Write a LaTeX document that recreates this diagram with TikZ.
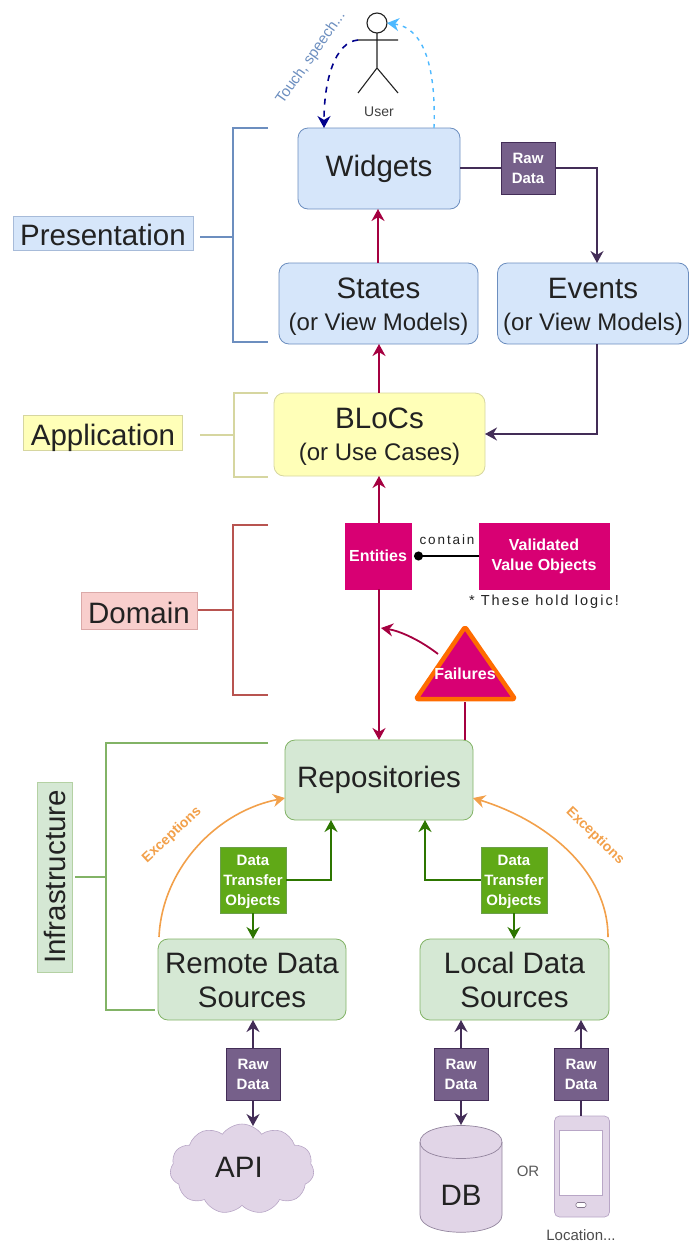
\documentclass[tikz,border=0pt]{standalone}
\usepackage{fontspec}
\setmainfont{Liberation Sans}
\newfontfamily\spacedfont[LetterSpace=14]{Liberation Sans}
\usetikzlibrary{arrows.meta,shapes.geometric,shapes.symbols,calc}
\definecolor{blueF}{HTML}{D6E6FA}\definecolor{blueD}{HTML}{6C8EBF}
\definecolor{yelF}{HTML}{FFFFB8}\definecolor{yelD}{HTML}{D6D6A0}
\definecolor{redF}{HTML}{F8CECC}\definecolor{redD}{HTML}{B85450}
\definecolor{grnF}{HTML}{D5E8D4}\definecolor{grnD}{HTML}{82B366}
\definecolor{purF}{HTML}{E1D5E7}\definecolor{purD}{HTML}{B8A6C6}
\definecolor{rawF}{HTML}{76608A}\definecolor{rawD}{HTML}{432D57}
\definecolor{magF}{HTML}{D80073}\definecolor{crim}{HTML}{A50040}
\definecolor{dtoF}{HTML}{60A917}\definecolor{dtoD}{HTML}{2D7600}
\definecolor{orng}{HTML}{F2A04A}\definecolor{ink}{HTML}{222222}
\newcommand{\dn}[1]{\rule{0pt}{#1pt}}
\tikzset{
  x=1pt,y=-1pt,
  every node/.style={inner sep=0pt,outer sep=0pt,align=center,text=ink},
  big/.style={font=\fontsize{29.5}{34}\selectfont},
  rbox/.style={draw=#1,rounded corners=10pt,line width=0.8pt,big},
  legend/.style={big,line width=0.9pt},
  sq/.style={font=\bfseries\fontsize{15}{20}\selectfont,text=white},
  rawbox/.style={sq,draw=rawD,fill=rawF,minimum width=54,minimum height=52},
  dtobox/.style={sq,draw=dtoD!70,fill=dtoF,minimum width=66,minimum height=66},
  magbox/.style={font=\bfseries\fontsize{16}{20}\selectfont,text=white,draw=magF,fill=magF},
  tipS/.style={-{Stealth[length=12pt,width=13pt]}},
  crimline/.style={draw=crim,line width=1.8pt,tipS},
  rawline/.style={draw=rawD,line width=1.8pt,tipS},
  dtoline/.style={draw=dtoD,line width=1.8pt,tipS},
  excline/.style={draw=orng,line width=1.6pt,tipS},
  brk/.style={line width=1.2pt}
}
\newcommand{\vm}{{\fontsize{24}{30}\selectfont (or View Models)}}
\begin{document}
\begin{tikzpicture}
\useasboundingbox (0,0) rectangle (689,1242);

% brackets
\draw[brk,blueD] (268,128)--(233,128)--(233,342)--(268,342) (200,237)--(233,237);
\draw[brk,yelD] (268,393)--(234,393)--(234,477)--(268,477) (200,435)--(234,435);
\draw[brk,redD] (268,525)--(233,525)--(233,695)--(268,695) (198,610)--(233,610);
\draw[brk,grnD] (268,743)--(106,743)--(106,1010)--(155,1010) (75,877)--(106,877);

% legends
\node[legend,draw=blueD!60,fill=blueF,minimum width=180,minimum height=34] (lp) at (103,233) {\dn{26}Presentation};
\node[legend,draw=yelD,fill=yelF,minimum width=159,minimum height=35,text depth=0pt] (la) at (103,433) {\dn{24}Application};
\node[legend,draw=redD!50,fill=redF,minimum width=116,minimum height=37] (ld) at (139,611) {\dn{25}Domain};
\node[legend,draw=grnD!60,fill=grnF,minimum width=190,minimum height=35,rotate=90] (li) at (55,877) {Infrastructure};

% main boxes
\node[rbox=blueD,fill=blueF,minimum width=162,minimum height=81] (widgets) at (379,168.5) {Widgets};
\node[rbox=blueD,fill=blueF,minimum width=199,minimum height=81] (states) at (378.5,303.5) {\dn{27}States\\[-2pt]\vm};
\node[rbox=blueD,fill=blueF,minimum width=191,minimum height=81] (events) at (593,303.5) {\dn{27}Events\\[-2pt]\vm};
\node[rbox=yelD,fill=yelF,minimum width=211,minimum height=83] (blocs) at (379.5,434.5) {\dn{24}BLoCs\\[-2pt]{\fontsize{24}{30}\selectfont (or Use Cases)}};
\node[rbox=grnD,fill=grnF,minimum width=188,minimum height=80] (repos) at (379,780) {Repositories};
\node[rbox=grnD,fill=grnF,minimum width=188,minimum height=81] (remote) at (252,979.5) {\dn{23}Remote Data\\Sources};
\node[rbox=grnD,fill=grnF,minimum width=189,minimum height=81] (local) at (514.5,979.5) {\dn{23}Local Data\\Sources};

% domain
\node[magbox,minimum width=66,minimum height=66] (entities) at (378,556) {Entities};
\node[magbox,minimum width=130,minimum height=66] (vvo) at (544,556) {Validated\\Value Objects};
\node[font=\spacedfont\fontsize{13.5}{15}\selectfont] (contain) at (447,540) {contain};
\node[font=\spacedfont\fontsize{14.5}{16}\selectfont] (logic) at (544,602) {* These hold logic!};

% failures triangle
\coordinate (ftop) at (465,627);
\coordinate (fleft) at (416,699);
\coordinate (fright) at (515,699);
\coordinate (fout) at (438,654);
\coordinate (fbase) at (465,702);
\coordinate (rail) at (381,628);
\draw[draw=orange!85!red,fill=magF,line width=4.5pt,line join=round,rounded corners=2pt] (ftop)--(fright)--(fleft)--cycle;
\node[font=\bfseries\fontsize{16}{20}\selectfont,text=white] (failures) at (465,674) {Failures};

% dto and raw boxes
\draw[rawline] (widgets.east |- 0,168) -- (597,168) -- (events.north -| 597,0);
\draw[rawline] (events.south -| 597,0) -- (597,434) -- (blocs.east |- 0,434);
\node[rawbox] (raw1) at (528,168) {Raw\\Data};
\node[dtobox] (dto1) at (253,880) {\dn{15}Data\\Transfer\\Objects};
\node[dtobox] (dto2) at (514,880) {\dn{15}Data\\Transfer\\Objects};
\node[rawbox] (raw2) at (253,1074) {Raw\\Data};
\node[rawbox] (raw3) at (461,1074) {Raw\\Data};
\node[rawbox] (raw4) at (581,1074) {Raw\\Data};

% stores
\node[cloud,cloud puffs=11,cloud puff arc=110,aspect=1.6,draw=purD,fill=purF,minimum width=144,minimum height=90,line width=0.6pt] (api) at (242,1169) {};
\node[font=\fontsize{29.5}{33}\selectfont] (apitext) at (239,1167) {API};
\coordinate (dbtop) at (461,1125);
\draw[draw=purD!80!black,fill=purF,line width=0.7pt]
  (420,1142) .. controls (420,1120) and (502,1120) .. (502,1142)
  -- (502,1215) .. controls (502,1238) and (420,1238) .. (420,1215) -- cycle;
\draw[draw=purD!80!black,line width=0.7pt] (420,1142) .. controls (420,1164) and (502,1164) .. (502,1142);
\node[font=\fontsize{29.5}{33}\selectfont] (dbtext) at (461,1195) {DB};
\node[font=\fontsize{15}{17}\selectfont,text=black!65] (or) at (528,1171) {OR};
\node[draw=purD,fill=purF,rounded corners=5pt,minimum width=55,minimum height=101,line width=0.7pt] (phone) at (582,1166.5) {};
\node[draw=purD,fill=white,minimum width=43,minimum height=65,line width=0.7pt] (screen) at (581,1163) {};
\node[draw=purD!70!black,fill=white,rounded corners=1.5pt,minimum width=10,minimum height=5,line width=0.6pt] (btn) at (581,1205) {};
\node[font=\fontsize{15}{17}\selectfont,text=black!70] (loc) at (581,1235) {Location...};

% actor
\node[circle,draw=ink,line width=1.1pt,minimum size=20,fill=white] (head) at (377,23) {};
\coordinate (hip) at (377,68);
\coordinate (armL) at (358,40);
\coordinate (armR) at (398,40);
\draw[ink,line width=1.1pt] (head.south)--(hip) (armL)--(armR) (hip)--(358,93) (hip)--(398,93);
\node[font=\fontsize{14}{16}\selectfont,text=black!75] (user) at (379,112) {User};
\node[font=\fontsize{15}{17}\selectfont,text=blueD,rotate=55] (touch) at (311,58) {Touch, speech...};

% connectors
\draw[draw=blue!55!black,line width=1.6pt,dash pattern=on 6pt off 6pt,tipS] (armL) .. controls (335,42) and (324,80) .. (324,128);
\draw[draw=blue!40!cyan!70,line width=1.4pt,dash pattern=on 4pt off 5pt,tipS] (434,128) .. controls (436,70) and (425,28) .. (head.east);

\draw[crimline] (states.north -| 378,0) -- (widgets.south -| 378,0);
\draw[crimline] (blocs.north -| 379,0) -- (states.south -| 379,0);
\draw[crimline] (entities.north -| 379,0) -- (blocs.south -| 379,0);
\draw[crimline] (entities.south -| 379,0) -- (repos.north -| 379,0);
\draw[crimline] (fout) .. controls (420,640) and (400,631) .. (rail);
\draw[draw=crim,line width=1.8pt] (fbase) -- (repos.north -| 465,0);

\draw[draw=black,line width=1.6pt,-{Circle[length=9pt]}] (vvo.west) -- ($(entities.east)+(3,0)$);

\draw[dtoline] (dto1.east |- 0,880) -- (331,880) -- (repos.south -| 331,0);
\draw[dtoline] (dto2.west |- 0,880) -- (425,880) -- (repos.south -| 425,0);
\draw[dtoline] (dto1.south) -- (remote.north -| dto1.south);
\draw[dtoline] (dto2.south) -- (local.north -| dto2.south);

\draw[excline] (remote.north west) ++(1,-2) .. controls (162,870) and (215,812) .. (repos.west |- 0,798);
\draw[excline] (local.north east) ++(-1,-2) .. controls (608,870) and (545,820) .. (repos.east |- 0,798);
\node[font=\bfseries\fontsize{14}{16}\selectfont,text=orng,rotate=43] (exc1) at (172,835) {Exceptions};
\node[font=\bfseries\fontsize{14}{16}\selectfont,text=orng,rotate=-44] (exc2) at (595,836) {Exceptions};

\draw[rawline] (raw2.north) -- (remote.south -| raw2.north);
\draw[rawline] (raw2.south) -- (253,1126);
\draw[rawline] (raw3.north) -- (local.south -| raw3.north);
\draw[rawline] (raw3.south) -- (dbtop);
\draw[rawline] (raw4.north) -- (local.south -| raw4.north);
\draw[draw=rawD,line width=1.8pt] (raw4.south) -- (phone.north -| raw4.south);
\end{tikzpicture}
\end{document}
